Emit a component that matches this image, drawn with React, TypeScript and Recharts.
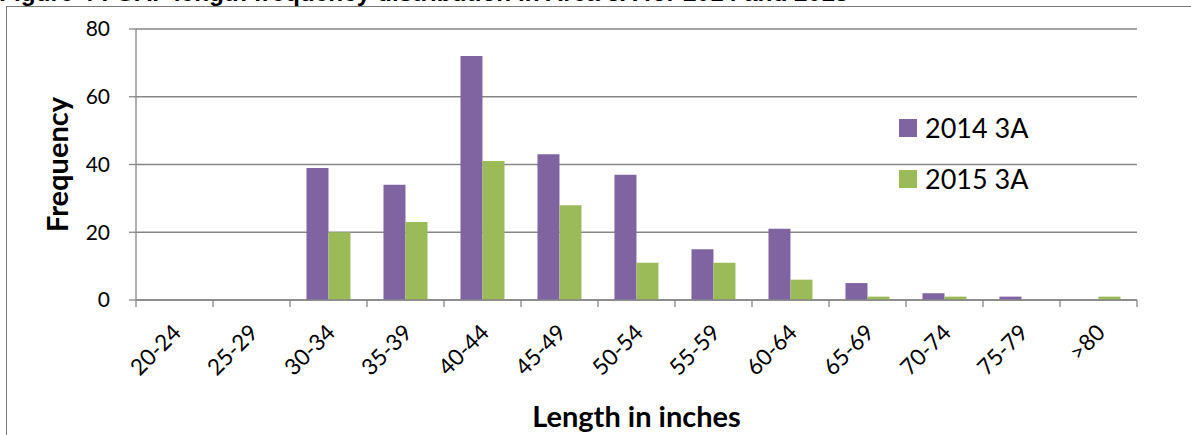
import React from 'react';
import { BarChart, Bar, XAxis, YAxis, CartesianGrid, Legend } from 'recharts';

// Length classes (inches) and fish counts per survey year
const lengthBins = ['20-24', '25-29', '30-34', '35-39', '40-44', '45-49', '50-54', '55-59', '60-64', '65-69', '70-74', '75-79', '>80'];
const counts2014 = [0, 0, 39, 34, 72, 43, 37, 15, 21, 5, 2, 1, 0];
const counts2015 = [0, 0, 20, 23, 41, 28, 11, 11, 6, 1, 1, 0, 1];
const frequencyTicks = [0, 20, 40, 60, 80];

const rows = lengthBins.map((bin, i) => ({ bin, y2014: counts2014[i], y2015: counts2015[i] }));

const PURPLE = '#8064A2';
const GREEN = '#9BBB59';
const AXIS_GRAY = '#878787';
const FONT = 'Lato, "Open Sans", sans-serif';

const TICK_LEN = 7;
const TICK_GAP = 2;

// Category tick: boundary tick marks (Excel style) plus a 45° label
const BinTick = (props: any) => {
  const { x, y, payload, index, visibleTicksCount } = props;
  const half = payload?.offset ?? 0;
  const axisY = y - TICK_LEN - TICK_GAP;
  const lx = x + 8;
  const ly = axisY + 34;
  return (
    <g>
      <line x1={x - half} x2={x - half} y1={axisY} y2={axisY + TICK_LEN} stroke={AXIS_GRAY} strokeWidth={1.3} />
      {index === visibleTicksCount - 1 && (
        <line x1={x + half} x2={x + half} y1={axisY} y2={axisY + TICK_LEN} stroke={AXIS_GRAY} strokeWidth={1.3} />
      )}
      <text
        x={lx}
        y={ly}
        transform={`rotate(-45 ${lx} ${ly})`}
        textAnchor="end"
        fontFamily={FONT}
        fontSize={22.5}
        fill="#000"
      >
        {payload.value}
      </text>
    </g>
  );
};

const SeriesKey = (props: any) => {
  const { payload } = props;
  return (
    <div style={{ display: 'flex', flexDirection: 'column' }}>
      {(payload || []).map((entry: any) => (
        <div key={entry.value} style={{ display: 'flex', alignItems: 'center', height: 51.5 }}>
          <span style={{ display: 'inline-block', width: 18, height: 18, background: entry.color, marginRight: 8 }} />
          <span style={{ fontFamily: FONT, fontSize: 27, color: '#000', lineHeight: '30px' }}>{entry.value}</span>
        </div>
      ))}
    </div>
  );
};

export default function App() {
  return (
    <div style={{ position: 'absolute', left: 0, top: 0, width: 1191, height: 435, overflow: 'hidden', background: '#fff' }}>
      <div
        style={{
          position: 'absolute',
          left: -1,
          top: -21,
          whiteSpace: 'nowrap',
          fontFamily: '"Liberation Sans", Arial, sans-serif',
          fontWeight: 'bold',
          fontSize: 24.4,
          lineHeight: 'normal',
          color: '#000',
        }}
      >
        Figure 4 : GAF length frequency distribution in Area 3A for 2014 and 2015
      </div>
      <div
        style={{
          position: 'absolute',
          left: 6,
          top: 6,
          width: 2000,
          height: 1000,
          borderLeft: '1.5px solid #7a7a7a',
          borderTop: '1.5px solid #7a7a7a',
        }}
      />
      <div style={{ position: 'absolute', left: 0, top: 0 }}>
        <BarChart
          width={1191}
          height={435}
          data={rows}
          margin={{ top: 29, right: 54, bottom: 0, left: 0 }}
          barCategoryGap="21.4%"
          barGap={0}
        >
          <CartesianGrid vertical={false} stroke={AXIS_GRAY} strokeWidth={1.3} />
          <XAxis
            dataKey="bin"
            interval={0}
            height={135}
            tickSize={TICK_LEN}
            tickMargin={TICK_GAP}
            tickLine={false}
            axisLine={{ stroke: AXIS_GRAY, strokeWidth: 1.3 }}
            tick={<BinTick />}
            label={{
              value: 'Length in inches',
              content: (p: any) => {
                const vb = p.viewBox;
                return (
                  <text
                    x={vb.x + vb.width / 2}
                    y={vb.y + 127}
                    textAnchor="middle"
                    fontFamily={FONT}
                    fontWeight="bold"
                    fontSize={29}
                    fill="#000"
                  >
                    Length in inches
                  </text>
                );
              },
            }}
          />
          <YAxis
            width={136}
            domain={[0, 80]}
            ticks={frequencyTicks}
            tickSize={TICK_LEN}
            tickMargin={19}
            tick={{ fill: '#000', fontFamily: FONT, fontSize: 21 }}
            tickLine={{ stroke: AXIS_GRAY, strokeWidth: 1.3 }}
            axisLine={{ stroke: AXIS_GRAY, strokeWidth: 1.3 }}
            label={{
              value: 'Frequency',
              content: (p: any) => {
                const vb = p.viewBox;
                const cx = 68;
                const cy = vb.y + vb.height / 2;
                return (
                  <text
                    x={cx}
                    y={cy}
                    transform={`rotate(-90 ${cx} ${cy})`}
                    textAnchor="middle"
                    fontFamily={FONT}
                    fontWeight="bold"
                    fontSize={29}
                    fill="#000"
                  >
                    Frequency
                  </text>
                );
              },
            }}
          />
          <Legend
            layout="horizontal"
            align="center"
            verticalAlign="middle"
            content={<SeriesKey />}
            wrapperStyle={{ left: 899, top: 102, width: 220, height: 'auto' }}
          />
          <Bar dataKey="y2014" name="2014 3A" fill={PURPLE} isAnimationActive={false} />
          <Bar dataKey="y2015" name="2015 3A" fill={GREEN} isAnimationActive={false} />
        </BarChart>
      </div>
    </div>
  );
}
